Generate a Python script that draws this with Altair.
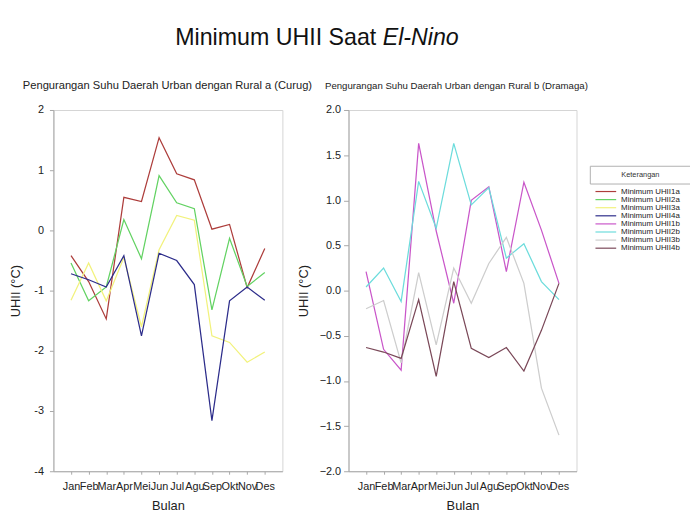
import altair as alt
import pandas as pd

# ---------------- data ----------------
months = ["Jan", "Feb", "Mar", "Apr", "Mei", "Jun", "Jul", "Agu", "Sep", "Okt", "Nov", "Des"]

names_a = ["Minimum UHII1a", "Minimum UHII2a", "Minimum UHII3a", "Minimum UHII4a"]
names_b = ["Minimum UHII1b", "Minimum UHII2b", "Minimum UHII3b", "Minimum UHII4b"]

uhii1a = [-0.42, -0.85, -1.47, 0.55, 0.48, 1.54, 0.94, 0.84, 0.02, 0.10, -0.95, -0.30]
uhii2a = [-0.54, -1.17, -0.94, 0.18, -0.47, 0.91, 0.46, 0.36, -1.32, -0.13, -0.93, -0.70]
uhii3a = [-1.16, -0.54, -1.17, -0.45, -1.60, -0.32, 0.25, 0.17, -1.75, -1.86, -2.19, -2.02]
uhii4a = [-0.72, -0.82, -0.94, -0.42, -1.75, -0.38, -0.50, -0.90, -3.16, -1.17, -0.94, -1.16]

uhii1b = [0.21, -0.65, -0.88, 1.63, 0.66, -0.14, 1.00, 1.15, 0.21, 1.20, 0.67, 0.08]
uhii2b = [0.04, 0.25, -0.12, 1.21, 0.69, 1.63, 0.95, 1.14, 0.36, 0.52, 0.10, -0.10]
uhii3b = [-0.20, -0.11, -0.80, 0.20, -0.60, 0.25, -0.14, 0.30, 0.59, 0.08, -1.08, -1.60]
uhii4b = [-0.63, -0.68, -0.75, -0.10, -0.95, 0.10, -0.64, -0.74, -0.63, -0.89, -0.44, 0.08]

colors_a = ["#ad3d3b", "#62d262", "#f2f27c", "#2c2c8a"]
colors_b = ["#c956c9", "#6cdcdc", "#cdcdcd", "#7a4858"]

left_ticks = [2, 1, 0, -1, -2, -3, -4]
right_ticks = [2.0, 1.5, 1.0, 0.5, 0.0, -0.5, -1.0, -1.5, -2.0]

title_main = "Minimum UHII Saat"
title_italic = "El-Nino"
sub_a = "Pengurangan Suhu Daerah Urban dengan Rural a (Curug)"
sub_b = "Pengurangan Suhu Daerah Urban dengan Rural b (Dramaga)"
legend_title = "Keterangan"
x_title = "Bulan"
y_title = "UHII (°C)"

FONT = "Liberation Sans"
TXT = "#222222"
AX = "#a8a8a8"


def to_long(names, series):
    rows = []
    for n, vals in zip(names, series):
        for m, v in zip(months, vals):
            rows.append({"Seri": n, "Bulan": m, "UHII": v})
    return pd.DataFrame(rows)


df_a = to_long(names_a, [uhii1a, uhii2a, uhii3a, uhii4a])
df_b = to_long(names_b, [uhii1b, uhii2b, uhii3b, uhii4b])

all_names = names_a + names_b
all_colors = colors_a + colors_b
df_leg = pd.DataFrame({"Seri": all_names})


def color_enc():
    return alt.Color("Seri:N", scale=alt.Scale(domain=all_names, range=all_colors), legend=None)


def x_enc():
    return alt.X(
        "Bulan:N",
        sort=months,
        scale=alt.Scale(type="point", domain=months, padding=1),
        axis=alt.Axis(
            title=x_title, labelAngle=0, tickSize=3, labelPadding=6, titlePadding=8.5,
            labelFontSize=11, titleFontSize=13, titleFontWeight="normal",
            labelFont=FONT, titleFont=FONT, labelColor=TXT, titleColor=TXT,
            domainColor=AX, tickColor=AX, grid=False,
        ),
    )


def text_layer(txt, x, y, size, align="left", style="normal", color=TXT):
    d = pd.DataFrame({"t": [txt]})
    return alt.Chart(d).mark_text(
        align=align, baseline="alphabetic", fontSize=size, font=FONT,
        fontStyle=style, color=color,
    ).encode(text="t:N", x=alt.value(x), y=alt.value(y))


# ---------------- left panel ----------------
lines_a = alt.Chart(df_a).mark_line(strokeWidth=1.25).encode(
    x=x_enc(),
    y=alt.Y(
        "UHII:Q",
        scale=alt.Scale(domain=[-4, 2], nice=False, zero=False),
        axis=alt.Axis(
            title=y_title, values=left_ticks,
            labelExpr="datum.value < 0 ? '-' + format(-datum.value, 'd') : format(datum.value, 'd')",
            tickSize=4, labelPadding=6, titlePadding=11.7,
            labelFontSize=11, titleFontSize=13, titleFontWeight="normal",
            labelFont=FONT, titleFont=FONT, labelColor=TXT, titleColor=TXT,
            domainColor=AX, tickColor=AX, grid=False,
        ),
    ),
    color=color_enc(),
)

t1 = text_layer(title_main, 327.1, -66, 23.5, align="right", color="#111111")
t2 = text_layer(title_italic, 333.6, -66, 23.5, align="left", style="italic", color="#111111")
s_a = text_layer(sub_a, -31, -21, 11.3)

left = alt.layer(lines_a, t1, t2, s_a).properties(width=232, height=366)

# ---------------- right panel ----------------
lines_b = alt.Chart(df_b).mark_line(strokeWidth=1.25).encode(
    x=x_enc(),
    y=alt.Y(
        "UHII:Q",
        scale=alt.Scale(domain=[-2, 2], nice=False, zero=False),
        axis=alt.Axis(
            title=y_title, values=right_ticks, format=".1f",
            tickSize=5, labelPadding=3, titlePadding=8.6,
            labelFontSize=11, titleFontSize=13, titleFontWeight="normal",
            labelFont=FONT, titleFont=FONT, labelColor=TXT, titleColor=TXT,
            domainColor=AX, tickColor=AX, grid=False,
        ),
    ),
    color=color_enc(),
)

# legend (Keterangan): entries placed by a point scale on the series names
leg_y = alt.Y(
    "Seri:N",
    scale=alt.Scale(type="point", domain=all_names, range=[82.6, 140.0], padding=0),
    axis=None,
)
leg_lines = alt.Chart(df_leg).mark_rule(strokeWidth=1.2).encode(
    x=alt.value(250.2), x2=alt.value(271.2), y=leg_y, color=color_enc()
)
leg_text = alt.Chart(df_leg).mark_text(
    align="left", baseline="middle", fontSize=8, font=FONT, color=TXT
).encode(x=alt.value(276.2), y=leg_y, text="Seri:N")

box = pd.DataFrame({"k": [legend_title]})
r_top = alt.Chart(box).mark_rule(color="#b0b0b0", strokeWidth=1).encode(
    x=alt.value(245), x2=alt.value(346), y=alt.value(57))
r_bot = alt.Chart(box).mark_rule(color="#b0b0b0", strokeWidth=1).encode(
    x=alt.value(245), x2=alt.value(346), y=alt.value(75))
r_lft = alt.Chart(box).mark_rule(color="#b0b0b0", strokeWidth=1).encode(
    x=alt.value(245), y=alt.value(57), y2=alt.value(75))
k_text = alt.Chart(box).mark_text(
    fontSize=7.5, font=FONT, align="center", baseline="middle", color="#333333"
).encode(text="k:N", x=alt.value(295.7), y=alt.value(66.3))
s_b = text_layer(sub_b, -23.8, -21, 9.75)

right = (
    alt.layer(lines_b, leg_lines, leg_text, r_top, r_bot, r_lft, k_text, s_b)
    .resolve_scale(y="independent")
    .properties(width=231, height=366)
)

chart = (
    alt.hconcat(left, right, spacing=67, bounds="flush")
    .properties(padding={"left": 1, "top": 14, "right": 0, "bottom": 0})
    .configure_view(stroke="#d4d4d4", strokeWidth=1)
)

chart.save("out.html", embed_options={"renderer": "svg", "actions": False})
